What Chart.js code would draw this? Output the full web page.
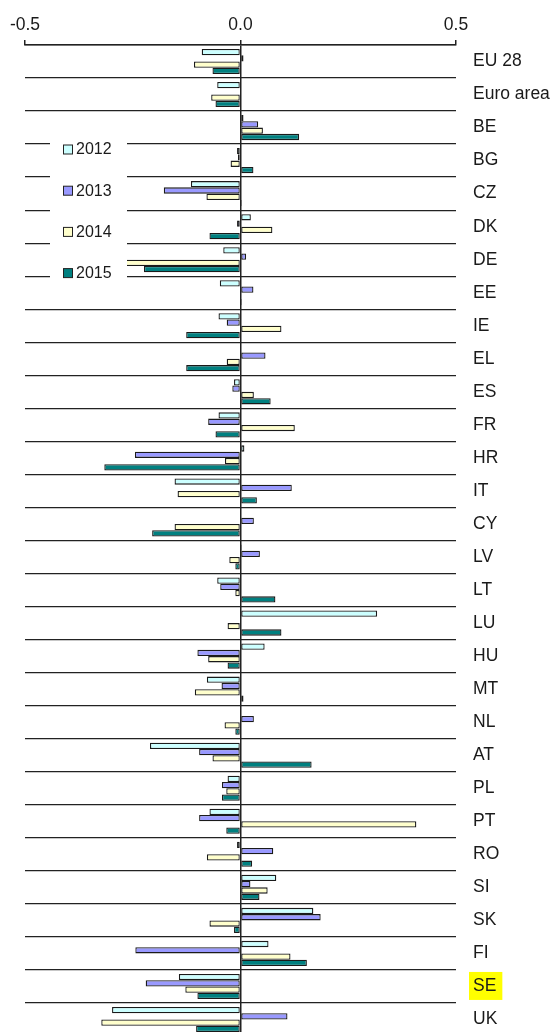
<!DOCTYPE html>
<html>
<head>
<meta charset="utf-8">
<script src="https://cdn.jsdelivr.net/npm/chart.js@4"></script>
<style>
  html, body { margin: 0; padding: 0; background: #fff; overflow: hidden; }
</style>
</head>
<body>
<canvas id="chart" width="558" height="1040"></canvas>
<script>
const countries = ["EU 28", "Euro area", "BE", "BG", "CZ", "DK", "DE", "EE", "IE", "EL",
  "ES", "FR", "HR", "IT", "CY", "LV", "LT", "LU", "HU", "MT",
  "NL", "AT", "PL", "PT", "RO", "SI", "SK", "FI", "SE", "UK"];
const years = ["2012", "2013", "2014", "2015"];

const v2012 = [-0.090, -0.054, 0.007, -0.008, -0.115, 0.024, -0.040, -0.048, -0.051, null,
  -0.015, -0.051, 0.009, -0.153, null, 0.003, -0.054, 0.317, 0.056, -0.078,
  null, -0.210, -0.030, -0.072, -0.008, 0.083, 0.169, 0.065, -0.143, -0.298];
const v2013 = [0.007, null, 0.041, -0.006, -0.178, -0.008, 0.013, 0.030, -0.032, 0.058,
  -0.019, -0.075, -0.245, 0.119, 0.031, 0.045, -0.047, null, -0.100, -0.044,
  0.031, -0.096, -0.043, -0.096, 0.076, 0.023, 0.186, -0.244, -0.220, 0.109];
const v2014 = [-0.108, -0.068, 0.052, -0.023, -0.079, 0.074, -0.290, null, 0.095, -0.032,
  0.031, 0.126, -0.036, -0.146, -0.153, -0.026, -0.012, -0.030, -0.075, -0.106,
  -0.037, -0.065, -0.033, 0.408, -0.078, 0.063, -0.072, 0.116, -0.128, -0.323];
const v2015 = [-0.065, -0.058, 0.136, 0.030, 0.003, -0.072, -0.224, 0.003, -0.126, -0.126,
  0.070, -0.058, -0.316, 0.038, -0.205, -0.012, 0.081, 0.095, -0.030, 0.007,
  -0.012, 0.165, -0.043, -0.033, 0.027, 0.044, -0.015, 0.154, -0.100, -0.103];

const colors = ["#ccffff", "#9999ff", "#ffffcc", "#008080"];
const font = "'Liberation Sans', Arial, sans-serif";
const ink = "#1a1a1a";

// legend sits on top of the plot, on a white patch
const legendBox = {
  id: "legendBox",
  afterDraw(chart) {
    const ctx = chart.ctx;
    ctx.save();
    ctx.fillStyle = "#fff";
    ctx.fillRect(50, 128, 77, 164);
    chart.data.datasets.forEach(function (ds, i) {
      const y = 149.5 + i * 41.2;
      ctx.fillStyle = ds.backgroundColor;
      ctx.strokeStyle = "#222";
      ctx.lineWidth = 1;
      ctx.fillRect(63.5, y - 4.5, 9, 9);
      ctx.strokeRect(63.5, y - 4.5, 9, 9);
      ctx.fillStyle = ink;
      ctx.font = "16px " + font;
      ctx.textBaseline = "middle";
      ctx.fillText(ds.label, 76, y + 0.5);
    });
    ctx.restore();
  },
};

new Chart(document.getElementById("chart"), {
  type: "bar",
  data: {
    labels: countries,
    datasets: [v2012, v2013, v2014, v2015].map(function (vals, i) {
      return {
        label: years[i],
        data: vals,
        backgroundColor: colors[i],
        borderColor: "#1a1a1a",
        borderWidth: 1.3,
        borderSkipped: false,
        categoryPercentage: 0.76,
        barPercentage: 1.0,
      };
    }),
  },
  options: {
    indexAxis: "y",
    responsive: false,
    animation: false,
    devicePixelRatio: 1,
    layout: { padding: { left: 25, right: 0, top: 0, bottom: 4 } },
    plugins: { legend: { display: false }, tooltip: { enabled: false } },
    scales: {
      x: {
        position: "top",
        min: -0.5,
        max: 0.5,
        ticks: {
          stepSize: 0.5,
          color: ink,
          font: { size: 17.5, family: font },
          padding: 4,
          callback: function (v) { return Number(v).toFixed(1); },
        },
        grid: {
          color: function (c) { return c.tick && c.tick.value === 0 ? "#222" : "rgba(0,0,0,0)"; },
          lineWidth: 1.5,
          tickLength: 5,
          tickColor: "#222",
          tickWidth: 1.5,
        },
        border: { display: true, color: "#222", width: 1.5 },
        afterFit: function (s) { s.height = 45; },
      },
      y: {
        position: "right",
        offset: true,
        ticks: {
          color: ink,
          font: { size: 17.5, family: font },
          padding: 17,
          showLabelBackdrop: true,
          backdropColor: function (c) { return c.tick && c.tick.label === "SE" ? "#ffff00" : "rgba(0,0,0,0)"; },
          backdropPadding: { top: 4, bottom: 3, left: 4, right: 6 },
        },
        grid: { color: "#222", lineWidth: 1.3, drawTicks: false, offset: true },
        border: { display: false },
        afterFit: function (s) {
          s.width = 102;
          s.paddingTop = 0;
          s.paddingBottom = 0;
        },
      },
    },
  },
  plugins: [legendBox],
});
</script>
</body>
</html>
